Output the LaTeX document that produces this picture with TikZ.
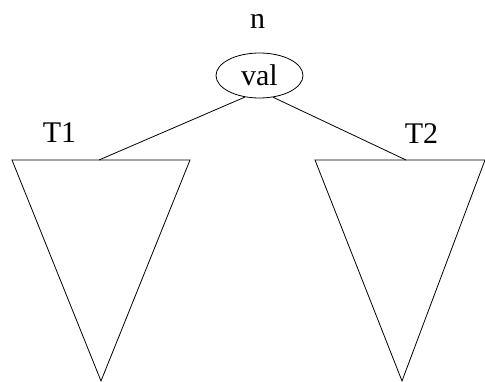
\documentclass[tikz,border=0pt]{standalone}
\usepackage{fontspec}
\newfontfamily\labelfont{Liberation Serif}
\usetikzlibrary{shapes.geometric}
\begin{document}
\begin{tikzpicture}[x=1pt,y=-1pt,
  edge/.style={draw=black,line width=0.8pt},
  tri/.style={draw=black,line width=0.8pt,line join=miter},
  lbl/.style={font=\labelfont\fontsize{30}{30}\selectfont,inner sep=0pt}]
\useasboundingbox (0,0) rectangle (485,382);
% root node with its name above
\node[draw,ellipse,line width=0.8pt,minimum width=87pt,minimum height=45pt,inner sep=0pt,
      font=\labelfont\fontsize{30}{30}\selectfont] (root) at (259.5,75.5) {val};
\node[lbl] (n) at (257.5,21.5) {n};
% left subtree
\coordinate (t1top) at (99,160);
\draw[tri] (12,160) -- (190,160) -- (101,381) -- cycle;
\node[lbl] (t1) at (59.5,133) {T1};
% right subtree
\coordinate (t2top) at (406,160);
\draw[tri] (315,160) -- (485,160) -- (402,381) -- cycle;
\node[lbl] (t2) at (421.5,134) {T2};
% edges from the root to the subtrees
\draw[edge] (root.236) -- (t1top);
\draw[edge] (root.302) -- (t2top);
\end{tikzpicture}
\end{document}
